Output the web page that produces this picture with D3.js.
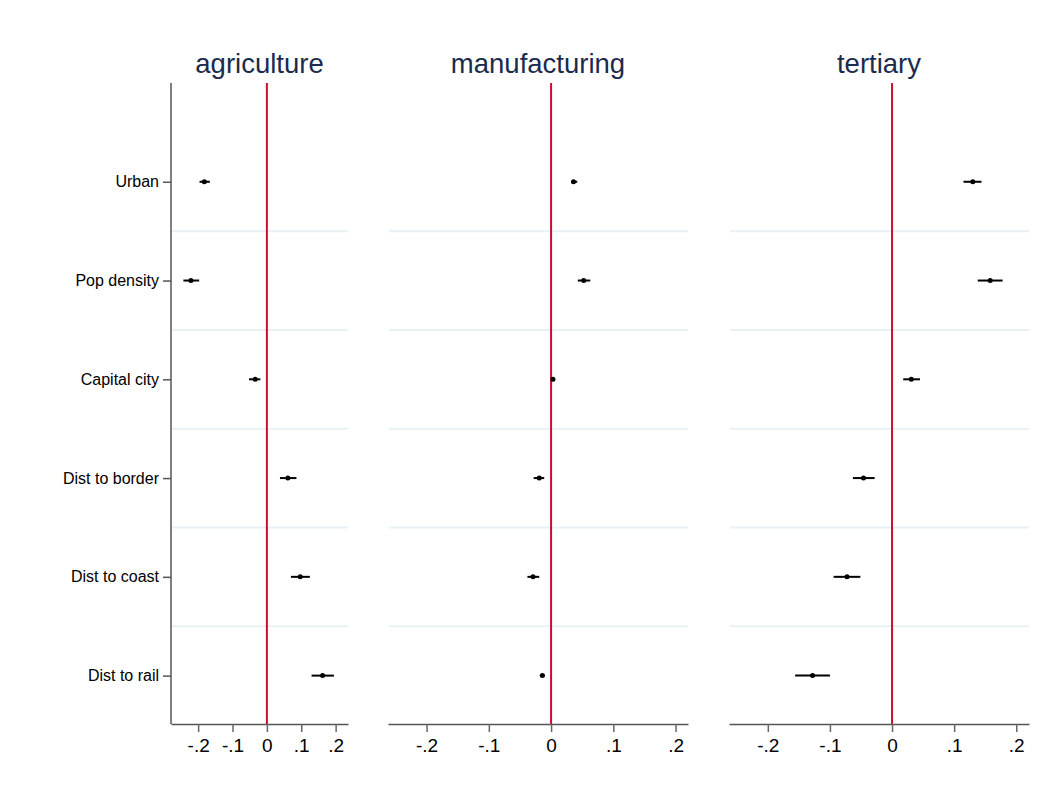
<!DOCTYPE html>
<html>
<head>
<meta charset="utf-8">
<script src="https://cdn.jsdelivr.net/npm/d3@7"></script>
<style>
  body { margin: 0; background: #fff; }
  text { font-family: "Liberation Sans", Arial, sans-serif; }
</style>
</head>
<body>
<div id="chart"></div>
<script>
// categories (top to bottom) and panels
var variables = ["Urban", "Pop density", "Capital city", "Dist to border", "Dist to coast", "Dist to rail"];
var sectors = ["agriculture", "manufacturing", "tertiary"];
var xTicks = [-0.2, -0.1, 0, 0.1, 0.2];

// point estimates and 95% CI, one array per sector (same order as variables)
var agriCoef = [-0.182, -0.221, -0.034, 0.061, 0.097, 0.162];
var agriLo   = [-0.196, -0.243, -0.052, 0.038, 0.070, 0.130];
var agriHi   = [-0.166, -0.197, -0.019, 0.086, 0.125, 0.195];

var manuCoef = [0.036, 0.0525, 0.003, -0.019, -0.029, -0.014];
var manuLo   = [0.032, 0.043, 0.002, -0.028, -0.038, -0.018];
var manuHi   = [0.042, 0.063, 0.004, -0.011, -0.019, -0.010];

var tertCoef = [0.130, 0.158, 0.031, -0.046, -0.0725, -0.128];
var tertLo   = [0.115, 0.138, 0.018, -0.063, -0.094, -0.156];
var tertHi   = [0.144, 0.178, 0.045, -0.028, -0.051, -0.100];

var coefs = [agriCoef, manuCoef, tertCoef];
var los = [agriLo, manuLo, tertLo];
var his = [agriHi, manuHi, tertHi];

var width = 1051, height = 804;
var plotTop = 83, plotBottom = 724;

// horizontal layout of the three panels (pixel range + value domain)
var panels = [
  {left: 171, right: 348, domain: [-0.279, 0.236]},
  {left: 388, right: 688, domain: [-0.262, 0.220]},
  {left: 729, right: 1029, domain: [-0.2625, 0.2205]}
];

var svg = d3.select("#chart").append("svg")
  .attr("width", width)
  .attr("height", height);

// y: row index -> pixel; first slot left empty like the original
var y = d3.scaleLinear().domain([-1, 5.49]).range([plotTop, plotBottom]);

var fmt = function(v) {
  if (v === 0) return "0";
  return d3.format(".1f")(v).replace("0.", ".").replace("−", "-");
};

panels.forEach(function(p, k) {
  var x = d3.scaleLinear().domain(p.domain).range([p.left, p.right]);
  var g = svg.append("g");

  // light separators between rows
  g.selectAll(".sep")
    .data(d3.range(variables.length - 1))
    .enter().append("line")
      .attr("x1", p.left + 1).attr("x2", p.right)
      .attr("y1", function(i) { return y(i + 0.5); })
      .attr("y2", function(i) { return y(i + 0.5); })
      .style("stroke", "#e8f1f3")
      .style("stroke-width", 2);

  // zero reference line
  g.append("line")
    .attr("x1", x(0)).attr("x2", x(0))
    .attr("y1", plotTop).attr("y2", plotBottom)
    .style("stroke", "#c8102e")
    .style("stroke-width", 2);

  // x axis
  var ax = g.append("g")
    .attr("transform", "translate(0," + plotBottom + ")")
    .call(d3.axisBottom(x).tickValues(xTicks).tickFormat(fmt).tickSize(8).tickSizeOuter(0).tickPadding(7));
  ax.select(".domain").style("stroke", "#555").style("stroke-width", 1.5);
  ax.selectAll(".tick line").style("stroke", "#666").style("stroke-width", 1.5);
  ax.selectAll(".tick text").style("font-size", "19px").style("fill", "#000")
    .style("font-family", "'Liberation Sans', Arial, sans-serif");

  // y axis only on first panel
  if (k === 0) {
    var ay = g.append("g")
      .attr("transform", "translate(" + p.left + ",0)")
      .call(d3.axisLeft(y).tickValues(d3.range(variables.length))
        .tickFormat(function(i) { return variables[i]; }).tickSize(8).tickSizeOuter(0).tickPadding(4));
    ay.select(".domain").style("stroke", "#555").style("stroke-width", 1.5)
      .attr("d", "M0," + plotTop + "V" + plotBottom);
    ay.selectAll(".tick line").style("stroke", "#555").style("stroke-width", 1.5);
    ay.selectAll(".tick text").style("font-size", "16px").style("fill", "#000")
      .style("font-family", "'Liberation Sans', Arial, sans-serif");
  }

  // confidence intervals
  g.selectAll(".ci")
    .data(variables)
    .enter().append("line")
      .attr("x1", function(d, i) { return x(los[k][i]); })
      .attr("x2", function(d, i) { return x(his[k][i]); })
      .attr("y1", function(d, i) { return y(i); })
      .attr("y2", function(d, i) { return y(i); })
      .style("stroke", "#000")
      .style("stroke-width", 2);

  // point estimates
  g.selectAll(".pt")
    .data(variables)
    .enter().append("circle")
      .attr("cx", function(d, i) { return x(coefs[k][i]); })
      .attr("cy", function(d, i) { return y(i); })
      .attr("r", 2.5)
      .style("fill", "#000");

  // panel title
  svg.append("text")
    .attr("x", (p.left + p.right) / 2)
    .attr("y", 73)
    .attr("text-anchor", "middle")
    .style("font-size", "27.5px")
    .style("fill", "#1a2b4c")
    .text(sectors[k]);
});
</script>
</body>
</html>
